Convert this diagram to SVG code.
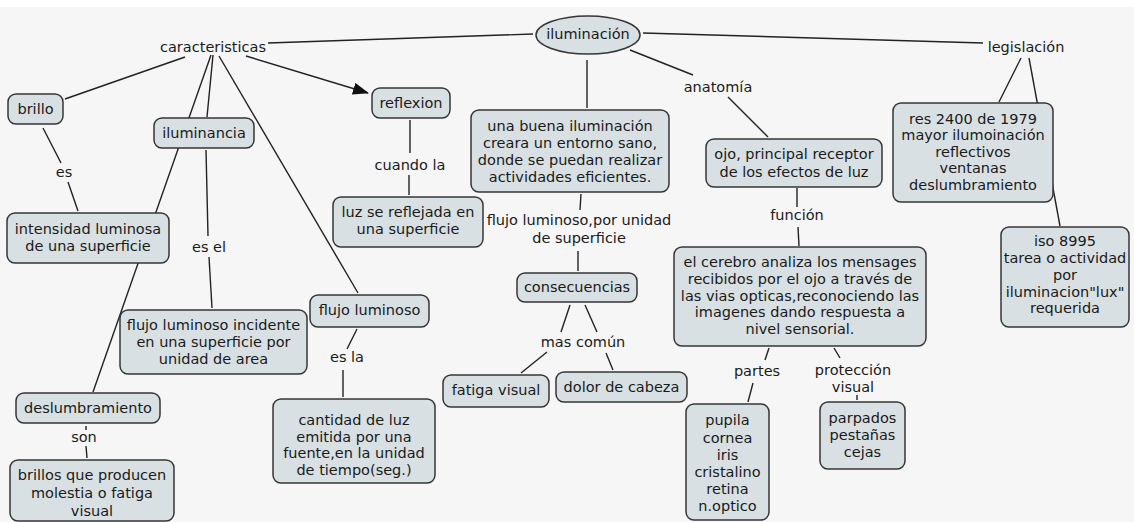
<svg xmlns="http://www.w3.org/2000/svg" width="1134" height="522" viewBox="0 0 1134 522">
<defs>
<style>
.bg{fill:#f6f6f6}
.box{fill:#d8e0e3;stroke:#363636;stroke-width:1.5}
.t{font-family:"DejaVu Sans",Verdana,sans-serif;font-size:14.5px;fill:#1a1a1a;text-anchor:middle}
.ln{stroke:#222222;stroke-width:1.4;fill:none}
</style>
<marker id="arr" markerUnits="userSpaceOnUse" markerWidth="16" markerHeight="12" refX="15" refY="6" orient="auto">
<path d="M0,0 L16,6 L0,12 Z" fill="#111"/>
</marker>
</defs>
<rect x="0" y="0" width="1134" height="522" fill="#ffffff"/>
<rect class="bg" x="0" y="7" width="1134" height="515"/>
<g id="connectors">
<line class="ln" x1="268" y1="43" x2="533" y2="34"/>
<line class="ln" x1="643" y1="33" x2="983" y2="43"/>
<line class="ln" x1="630" y1="50" x2="693" y2="75"/>
<line class="ln" x1="728" y1="97" x2="768" y2="137"/>
<line class="ln" x1="587" y1="60" x2="587" y2="108"/>
<line class="ln" x1="1021" y1="58" x2="999" y2="102"/>
<line class="ln" x1="1029" y1="58" x2="1060" y2="226"/>
<line class="ln" x1="797" y1="188" x2="797" y2="207"/>
<line class="ln" x1="798" y1="227" x2="799" y2="246"/>
<line class="ln" x1="769" y1="348" x2="765" y2="360"/>
<line class="ln" x1="753" y1="383" x2="748" y2="402"/>
<line class="ln" x1="834" y1="348" x2="840" y2="358"/>
<line class="ln" x1="857" y1="395" x2="857" y2="400"/>
<line class="ln" x1="185" y1="57" x2="65" y2="99"/>
<line class="ln" x1="211" y1="55" x2="93" y2="392"/>
<line class="ln" x1="213" y1="55" x2="207" y2="117"/>
<line class="ln" x1="206" y1="150" x2="208" y2="236"/>
<line class="ln" x1="209" y1="257" x2="212" y2="308"/>
<line class="ln" x1="219" y1="56" x2="358" y2="293"/>
<line class="ln" x1="246" y1="56" x2="368" y2="93" marker-end="url(#arr)"/>
<line class="ln" x1="43" y1="128" x2="61" y2="163"/>
<line class="ln" x1="68" y1="182" x2="78" y2="211"/>
<line class="ln" x1="86" y1="426" x2="86" y2="430"/>
<line class="ln" x1="86" y1="446" x2="87" y2="458"/>
<line class="ln" x1="357" y1="329" x2="347" y2="349"/>
<line class="ln" x1="343" y1="370" x2="343" y2="397"/>
<line class="ln" x1="410" y1="120" x2="410" y2="153"/>
<line class="ln" x1="409" y1="175" x2="409" y2="195"/>
<line class="ln" x1="581" y1="194" x2="580" y2="210"/>
<line class="ln" x1="578" y1="251" x2="578" y2="271"/>
<line class="ln" x1="570" y1="305" x2="561" y2="332"/>
<line class="ln" x1="585" y1="305" x2="597" y2="332"/>
<line class="ln" x1="547" y1="352" x2="521" y2="373"/>
<line class="ln" x1="606" y1="353" x2="613" y2="370"/>
</g>
<g id="iluminacion"><ellipse class="box" cx="588" cy="35" rx="52" ry="19"/><text class="t" x="588" y="39">iluminación</text></g>
<g id="caracteristicas"><text class="t" x="213" y="52">caracteristicas</text></g>
<g id="legislacion"><text class="t" x="1026" y="52">legislación</text></g>
<g id="anatomia"><text class="t" x="718" y="92">anatomía</text></g>
<g id="brillo"><rect class="box" x="8" y="94" width="55" height="30" rx="8"/><text class="t" x="35.5" y="114">brillo</text></g>
<g id="iluminancia"><rect class="box" x="154" y="118" width="100" height="30" rx="8"/><text class="t" x="204" y="138">iluminancia</text></g>
<g id="reflexion"><rect class="box" x="372" y="88" width="78" height="30" rx="8"/><text class="t" x="411" y="108">reflexion</text></g>
<g id="buena"><rect class="box" x="471" y="110" width="198" height="82" rx="8"/><text class="t" x="570" y="131">una buena iluminación</text><text class="t" x="570" y="148">creara un entorno sano,</text><text class="t" x="570" y="165">donde se puedan realizar</text><text class="t" x="570" y="182">actividades eficientes.</text></g>
<g id="ojo"><rect class="box" x="706" y="139" width="176" height="48" rx="8"/><text class="t" x="794" y="159">ojo, principal receptor</text><text class="t" x="794" y="177">de los efectos de luz</text></g>
<g id="res"><rect class="box" x="893" y="103" width="160" height="99" rx="8"/><text class="t" x="973" y="124">res 2400 de 1979</text><text class="t" x="973" y="140">mayor ilumoinación</text><text class="t" x="973" y="157">reflectivos</text><text class="t" x="973" y="173">ventanas</text><text class="t" x="973" y="190">deslumbramiento</text></g>
<g id="iso"><rect class="box" x="1001" y="227" width="128" height="100" rx="8"/><text class="t" x="1065" y="246">iso 8995</text><text class="t" x="1065" y="263">tarea o actividad</text><text class="t" x="1065" y="280">por</text><text class="t" x="1065" y="297">iluminacion"lux"</text><text class="t" x="1065" y="313">requerida</text></g>
<g id="cerebro"><rect class="box" x="674" y="247" width="252" height="99" rx="8"/><text class="t" x="800" y="267">el cerebro analiza los mensages</text><text class="t" x="800" y="284">recibidos por el ojo a través de</text><text class="t" x="800" y="301">las vias opticas,reconociendo las</text><text class="t" x="800" y="317">imagenes dando respuesta a</text><text class="t" x="800" y="334">nivel sensorial.</text></g>
<g id="pupila"><rect class="box" x="686" y="404" width="83" height="116" rx="8"/><text class="t" x="727.5" y="425">pupila</text><text class="t" x="727.5" y="443">cornea</text><text class="t" x="727.5" y="460">iris</text><text class="t" x="727.5" y="477">cristalino</text><text class="t" x="727.5" y="494">retina</text><text class="t" x="727.5" y="511">n.optico</text></g>
<g id="parpados"><rect class="box" x="820" y="402" width="85" height="67" rx="8"/><text class="t" x="862.5" y="423">parpados</text><text class="t" x="862.5" y="440">pestañas</text><text class="t" x="862.5" y="457">cejas</text></g>
<g id="es"><text class="t" x="64" y="177">es</text></g>
<g id="intensidad"><rect class="box" x="7" y="213" width="162" height="50" rx="8"/><text class="t" x="88" y="234">intensidad luminosa</text><text class="t" x="88" y="251">de una superficie</text></g>
<g id="esel"><text class="t" x="209" y="252">es el</text></g>
<g id="incidente"><rect class="box" x="120" y="310" width="187" height="64" rx="8"/><text class="t" x="213.5" y="330">flujo luminoso incidente</text><text class="t" x="213.5" y="347">en una superficie por</text><text class="t" x="213.5" y="364">unidad de area</text></g>
<g id="deslumbramiento"><rect class="box" x="16" y="393" width="144" height="30" rx="8"/><text class="t" x="88" y="413">deslumbramiento</text></g>
<g id="son"><text class="t" x="84" y="442">son</text></g>
<g id="brillos"><rect class="box" x="10" y="460" width="164" height="61" rx="8"/><text class="t" x="92" y="480">brillos que producen</text><text class="t" x="92" y="498">molestia o fatiga</text><text class="t" x="92" y="516">visual</text></g>
<g id="flujo"><rect class="box" x="310" y="295" width="119" height="32" rx="8"/><text class="t" x="369.5" y="315">flujo luminoso</text></g>
<g id="esla"><text class="t" x="347" y="362">es la</text></g>
<g id="cantidad"><rect class="box" x="273" y="399" width="162" height="84" rx="8"/><text class="t" x="354" y="425">cantidad de luz</text><text class="t" x="354" y="442">emitida por una</text><text class="t" x="354" y="458">fuente,en la unidad</text><text class="t" x="354" y="475">de tiempo(seg.)</text></g>
<g id="cuandola"><text class="t" x="410" y="170">cuando la</text></g>
<g id="luz"><rect class="box" x="333" y="197" width="150" height="50" rx="8"/><text class="t" x="408" y="217">luz se reflejada en</text><text class="t" x="408" y="234">una superficie</text></g>
<g id="flujopor"><text class="t" x="579" y="225">flujo luminoso,por unidad</text><text class="t" x="579" y="243">de superficie</text></g>
<g id="consecuencias"><rect class="box" x="517" y="273" width="120" height="29" rx="8"/><text class="t" x="577" y="292">consecuencias</text></g>
<g id="mascomun"><text class="t" x="583" y="347">mas común</text></g>
<g id="fatiga"><rect class="box" x="443" y="375" width="106" height="32" rx="8"/><text class="t" x="496" y="395">fatiga visual</text></g>
<g id="dolor"><rect class="box" x="556" y="372" width="131" height="30" rx="8"/><text class="t" x="621.5" y="392">dolor de cabeza</text></g>
<g id="funcion"><text class="t" x="797" y="220">función</text></g>
<g id="partes"><text class="t" x="757" y="376">partes</text></g>
<g id="proteccion"><text class="t" x="853" y="375">protección</text><text class="t" x="853" y="392">visual</text></g>
</svg>
